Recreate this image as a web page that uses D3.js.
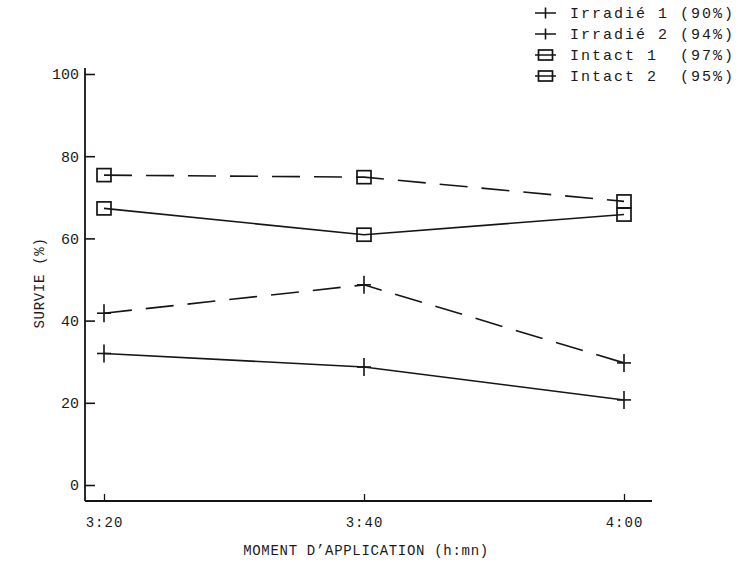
<!DOCTYPE html>
<html>
<head>
<meta charset="utf-8">
<script src="https://cdn.jsdelivr.net/npm/d3@7"></script>
<style>
  html, body { margin: 0; padding: 0; background: #fff; }
  svg { display: block; }
  text { font-family: "Liberation Mono", "DejaVu Sans Mono", monospace; fill: #1a1a1a; }
</style>
</head>
<body>
<svg id="chart" width="739" height="566"></svg>
<script>
// Survival (%) by application time
const times = ["3:20", "3:40", "4:00"];
const yTicks = [0, 20, 40, 60, 80, 100];

const irradie1 = [32, 28.7, 20.7];
const irradie2 = [41.8, 48.7, 29.7];
const intact1 = [67.3, 60.9, 65.8];
const intact2 = [75.4, 74.9, 69.0];

const seriesNames = ["Irradié 1", "Irradié 2", "Intact 1", "Intact 2"];
const seriesPct = ["(90%)", "(94%)", "(97%)", "(95%)"];

const series = [
  { name: seriesNames[0], pct: seriesPct[0], values: irradie1, marker: "plus",   dashed: false },
  { name: seriesNames[1], pct: seriesPct[1], values: irradie2, marker: "plus",   dashed: true  },
  { name: seriesNames[2], pct: seriesPct[2], values: intact1,  marker: "square", dashed: false },
  { name: seriesNames[3], pct: seriesPct[3], values: intact2,  marker: "square", dashed: true  }
];

const ink = "#151515";
const textInk = "#2a2a2a";
const svg = d3.select("#chart");
svg.append("rect").attr("width", 739).attr("height", 566).attr("fill", "#fff");

const x = d3.scalePoint().domain(times).range([104, 624]).padding(0);
const y = d3.scaleLinear().domain([0, 100]).range([485, 74]);

const axisLeftX = 85, axisBottomY = 501;

// Y axis: ticks point inward, frame line drawn separately
const gy = svg.append("g").attr("transform", `translate(${axisLeftX},0)`)
  .call(d3.axisLeft(y).tickValues(yTicks).tickSize(-10).tickPadding(6).tickFormat(d3.format("d")));
gy.select(".domain").remove();
gy.selectAll(".tick line").attr("stroke", ink).attr("stroke-width", 1.6);
gy.selectAll(".tick text").attr("font-size", 15).attr("fill", textInk)
  .style("font-family", "'Liberation Mono', monospace");
svg.append("line").attr("x1", axisLeftX).attr("x2", axisLeftX)
  .attr("y1", 68).attr("y2", axisBottomY).attr("stroke", ink).attr("stroke-width", 1.8);

// X axis: short upward ticks at each time
const gx = svg.append("g").attr("transform", `translate(0,${axisBottomY})`)
  .call(d3.axisBottom(x).tickSize(-7).tickPadding(16));
gx.select(".domain").remove();
gx.selectAll(".tick line").attr("stroke", ink).attr("stroke-width", 1.3);
gx.selectAll(".tick text").attr("font-size", 14).attr("fill", textInk)
  .style("font-family", "'Liberation Mono', monospace").attr("letter-spacing", 1);
svg.append("line").attr("x1", axisLeftX).attr("x2", 652)
  .attr("y1", axisBottomY).attr("y2", axisBottomY).attr("stroke", ink).attr("stroke-width", 1.8);

// Axis titles
svg.append("text").attr("x", 366).attr("y", 555).attr("text-anchor", "middle")
  .attr("font-size", 14).attr("letter-spacing", 0.7).attr("fill", textInk)
  .text("MOMENT D’APPLICATION (h:mn)");
svg.append("text").attr("transform", "translate(44,283) rotate(-90)").attr("text-anchor", "middle")
  .attr("font-size", 14).attr("letter-spacing", 0.7).attr("fill", textInk)
  .text("SURVIE (%)");

// Marker drawing helper
function drawMarker(g, kind, cx, cy, w, h) {
  if (kind === "plus") {
    g.append("line").attr("x1", cx - w / 2).attr("x2", cx + w / 2).attr("y1", cy).attr("y2", cy)
      .attr("stroke", ink).attr("stroke-width", 1.6);
    g.append("line").attr("x1", cx).attr("x2", cx).attr("y1", cy - h / 2).attr("y2", cy + h / 2)
      .attr("stroke", ink).attr("stroke-width", 1.6);
  } else {
    g.append("rect").attr("x", cx - w / 2).attr("y", cy - h / 2).attr("width", w).attr("height", h)
      .attr("fill", "none").attr("stroke", ink).attr("stroke-width", 1.7);
  }
}

// Series lines and markers
const line = d3.line().x((d, i) => x(times[i])).y(d => y(d));
series.forEach(s => {
  const g = svg.append("g");
  g.append("path").datum(s.values).attr("d", line)
    .attr("fill", "none").attr("stroke", ink).attr("stroke-width", 1.6)
    .attr("stroke-dasharray", s.dashed ? "28,14" : null);
  s.values.forEach((v, i) => {
    if (s.marker === "plus") drawMarker(g, "plus", x(times[i]), y(v), 14, 18);
    else drawMarker(g, "square", x(times[i]), y(v), 14, 13);
  });
});

// Legend
const legendRowY = [13, 34, 55, 76];
const legend = svg.append("g");
series.forEach((s, i) => {
  const ly = legendRowY[i];
  const g = legend.append("g");
  g.append("line").attr("x1", 535).attr("x2", 556).attr("y1", ly).attr("y2", ly)
    .attr("stroke", ink).attr("stroke-width", 1.5);
  if (s.marker === "plus") drawMarker(g, "plus", 545.5, ly, 0, 11);
  else drawMarker(g, "square", 545.5, ly, 14, 10);
  const label = s.name.padEnd(10, " ") + s.pct;
  g.append("text").attr("x", 570).attr("y", ly + 5).attr("font-size", 15)
    .attr("letter-spacing", 2).attr("fill", textInk)
    .style("white-space", "pre").text(label);
});
</script>
</body>
</html>
